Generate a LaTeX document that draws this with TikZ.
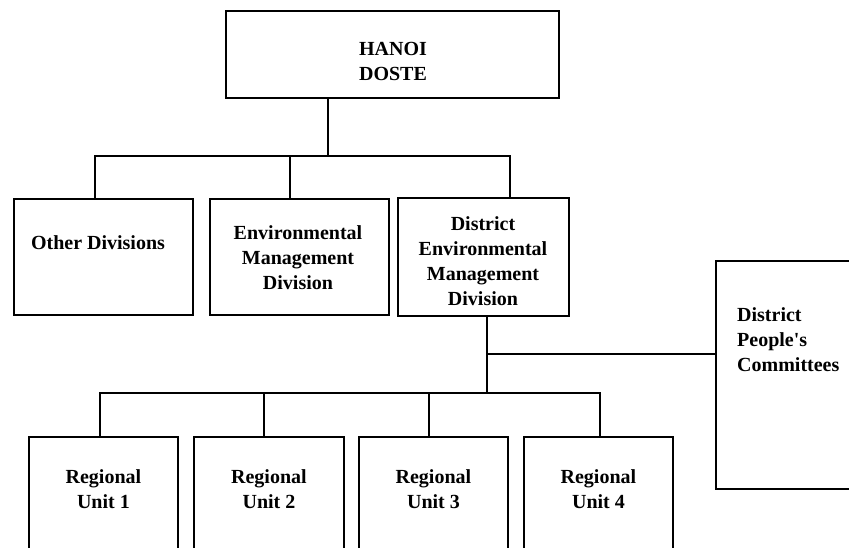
\documentclass[tikz,border=0pt]{standalone}
\usepackage{fontspec}
\setmainfont{Liberation Serif}
\begin{document}
\begin{tikzpicture}[x=1pt,y=-1pt,
  box/.style={draw, line width=1.9pt, inner sep=0pt, anchor=north west},
  txt/.style={inner sep=0pt, align=center, font=\bfseries\fontsize{20}{25}\selectfont},
  conn/.style={line width=2pt}]
\useasboundingbox (0,0) rectangle (849,548);
\clip (0,0) rectangle (849,548);
% boxes
\node[box, minimum width=333pt, minimum height=87pt] (top) at (225,10) {};
\node[box, minimum width=179pt, minimum height=116pt] (od) at (13,198) {};
\node[box, minimum width=179pt, minimum height=116pt] (env) at (209,198) {};
\node[box, minimum width=171pt, minimum height=118pt] (dem) at (397,197) {};
\node[box, minimum width=170pt, minimum height=228pt] (dpc) at (715,260) {};
\node[box, minimum width=149pt, minimum height=130pt] (ru1) at (28,436) {};
\node[box, minimum width=150pt, minimum height=130pt] (ru2) at (193,436) {};
\node[box, minimum width=149pt, minimum height=130pt] (ru3) at (358,436) {};
\node[box, minimum width=149pt, minimum height=130pt] (ru4) at (523,436) {};
% texts
\node[txt] (topt) at (393,61) {HANOI\\DOSTE};
\node[txt] (odt) at (98,243) {Other Divisions};
\node[txt] (envt) at (298,258) {Environmental\\Management\\Division};
\node[txt] (demt) at (483,261) {District\\Environmental\\Management\\Division};
\node[txt, align=left, anchor=west] (dpct) at (737,340) {District\\People\textquotesingle s\\Committees};
\node[txt] (ru1t) at (ru1.north |- 0,489) {Regional\\Unit 1};
\node[txt] (ru2t) at (ru2.north |- 0,489) {Regional\\Unit 2};
\node[txt] (ru3t) at (ru3.north |- 0,489) {Regional\\Unit 3};
\node[txt] (ru4t) at (ru4.north |- 0,489) {Regional\\Unit 4};
% connectors
\coordinate (j1) at (328,156);
\coordinate (j2) at (487,354);
\coordinate (j3) at (487,393);
\draw[conn] (top.south -| j1) -- (j1);
\draw[conn] (95,0 |- od.north) -- (95,156) -- (510,156) -- (510,0 |- dem.north);
\draw[conn] (290,156) -- (290,0 |- env.north);
\draw[conn] (j3 |- dem.south) -- (j3);
\draw[conn] (j2) -- (j2 -| dpc.west);
\draw[conn] (100,0 |- ru1.north) -- (100,393) -- (600,393) -- (600,0 |- ru4.north);
\draw[conn] (264,393) -- (264,0 |- ru2.north);
\draw[conn] (429,393) -- (429,0 |- ru3.north);
\end{tikzpicture}
\end{document}
